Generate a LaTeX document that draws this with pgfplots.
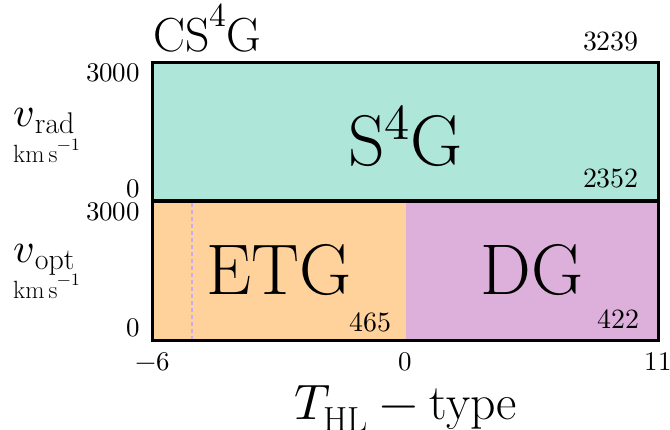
\documentclass[border=0pt]{standalone}
\usepackage{unicode-math}
\setmathfont{Latin Modern Math}
\usepackage{pgfplots}
\pgfplotsset{compat=1.18}
\definecolor{cteal}{RGB}{174,230,218}
\definecolor{corange}{RGB}{255,209,155}
\definecolor{cpurple}{RGB}{221,176,219}
\definecolor{cdash}{RGB}{205,170,238}
\newcommand{\fs}[1]{\fontsize{#1}{#1}\selectfont}
\begin{document}
\begin{tikzpicture}
\useasboundingbox (-153bp,-90bp) rectangle (517bp,340bp);
\pgfplotsset{
  panel/.style={
    width=505bp, height=139bp, scale only axis,
    xmin=0, xmax=12, ymin=0, ymax=3000,
    axis line style={line width=3bp},
    major tick length=0pt,
    axis on top,
    ytick={0}, yticklabels={$0$},
    yticklabel style={anchor=south east, inner sep=0pt, xshift=-13bp, yshift=3bp, font=\fs{27}},
    extra y ticks={3000}, extra y tick labels={$3000$},
    extra y tick style={yticklabel style={anchor=north east, yshift=-4bp}, major tick length=0pt},
    clip=false,
  }
}
% bottom panel
\begin{axis}[panel, at={(0,0)}, anchor=south west,
  xtick={0,6,12}, xticklabels={$-6$,$0$,$11$},
  xticklabel style={font=\fs{27}, anchor=north, inner sep=0pt, yshift=-12bp}]
\addplot[draw=none, fill=corange] coordinates {(0,0) (6,0) (6,3000) (0,3000)} -- cycle;
\addplot[draw=none, fill=cpurple] coordinates {(6,0) (12,0) (12,3000) (6,3000)} -- cycle;
\addplot[color=cdash, line width=1.5bp, dash pattern=on 4bp off 3bp] coordinates {(0.93,0) (0.93,3000)};
\node[font=\fs{72}] at (rel axis cs:0.25,0.5) {$\mathrm{ETG}$};
\node[font=\fs{72}] at (rel axis cs:0.75,0.5) {$\mathrm{DG}$};
\node[font=\fs{28}, anchor=base east, inner sep=0pt] at (rel axis cs:0.5,0) [xshift=-14bp, yshift=9bp] {$465$};
\node[font=\fs{28}, anchor=base east, inner sep=0pt] at (rel axis cs:1,0) [xshift=-18bp, yshift=12bp] {$422$};
\node[font=\fs{50}, anchor=base, inner sep=0pt] at (rel axis cs:0.5,0) [yshift=-79bp] {$T_{\mathrm{HL}} - \mathrm{type}$};
\node[anchor=base west, inner sep=0pt] at (rel axis cs:0,0) [xshift=-140bp, yshift=78bp] {{\fs{42}$v$}\kern1bp\raisebox{-7bp}{\fs{30}$\mathrm{opt}$}};
\node[anchor=base west, inner sep=0pt] at (rel axis cs:0,0) [xshift=-140bp, yshift=42bp] {\fs{25}$\mathrm{km\,s}^{-1}$};
\end{axis}
% top panel
\begin{axis}[panel, at={(0,139bp)}, anchor=south west, xtick=\empty]
\addplot[draw=none, fill=cteal] coordinates {(0,0) (12,0) (12,3000) (0,3000)} -- cycle;
\node[font=\fs{72}] at (rel axis cs:0.5,0.5) [yshift=-5bp] {$\mathrm{S}^{4}\mathrm{G}$};
\node[font=\fs{28}, anchor=base east, inner sep=0pt] at (rel axis cs:1,0) [xshift=-19bp, yshift=13bp] {$2352$};
\node[font=\fs{28}, anchor=base east, inner sep=0pt] at (rel axis cs:1,1) [xshift=-19bp, yshift=11bp] {$3239$};
\node[font=\fs{48}, anchor=base west, inner sep=0pt] at (rel axis cs:0,1) [yshift=10bp] {$\mathrm{CS}^{4}\mathrm{G}$};
\node[anchor=base west, inner sep=0pt] at (rel axis cs:0,0) [xshift=-140bp, yshift=74bp] {{\fs{42}$v$}\kern1bp\raisebox{-7bp}{\fs{30}$\mathrm{rad}$}};
\node[anchor=base west, inner sep=0pt] at (rel axis cs:0,0) [xshift=-140bp, yshift=38bp] {\fs{25}$\mathrm{km\,s}^{-1}$};
\end{axis}
\end{tikzpicture}
\end{document}
